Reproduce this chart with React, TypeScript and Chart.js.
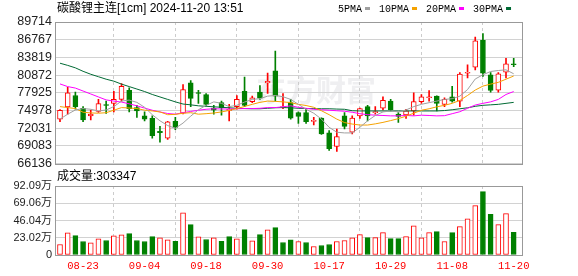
import React, { useEffect, useRef } from "react";
import { Chart, registerables } from "chart.js";
Chart.register(...registerables);

const title = "碳酸锂主连[1cm] 2024-11-20 13:51";
const volumeTitle = "成交量";
const lastVolume = 303347;

const dates = [
  "08-20","08-21","08-22","08-23","08-26","08-27","08-28","08-29","08-30",
  "09-02","09-03","09-04","09-05","09-06","09-09","09-10","09-11","09-12","09-13",
  "09-18","09-19","09-20","09-23","09-24","09-25","09-26","09-27","09-30",
  "10-08","10-09","10-10","10-11","10-14","10-15","10-16","10-17","10-18",
  "10-21","10-22","10-23","10-24","10-25","10-28","10-29","10-30","10-31",
  "11-01","11-04","11-05","11-06","11-07","11-08","11-11","11-12","11-13","11-14","11-15",
  "11-18","11-19","11-20",
];
const xTickLabels = ["08-23", "09-04", "09-18", "09-30", "10-17", "10-29", "11-08", "11-20"];

const opens = [73530,75551,77474,75338,74073,74796,75950,76159,76816,78345,75453,74073,73645,71510,70359,73153,74516,79560,77950,77638,75387,76274,74960,75617,78180,76439,78016,79560,81581,75480,76274,74631,74631,73153,73695,71230,68979,74073,71345,74073,75617,74600,75338,76537,74352,74237,74894,76439,77096,77359,75995,77260,76537,81170,82189,86674,80924,78345,81368,82760];
const closes = [75009,77917,75617,73416,74352,76110,75800,76816,79002,75289,74894,73530,70787,71280,73087,72167,78460,76981,77800,75995,75009,75453,75173,76816,75831,77096,77030,79823,77359,75640,73695,73974,73087,73317,71066,68601,70623,72331,73695,75289,74073,74780,76652,75058,73974,74894,76439,77260,77260,76159,76816,76537,81039,81340,86560,81203,78295,81089,82731,82600];
const highs = [75100,78837,78016,75617,75058,76816,76537,78180,79445,78739,75831,74730,74073,72331,73150,73810,79281,79938,78345,77800,75831,76537,75995,77474,80546,77359,79117,81203,84867,77800,76816,74730,75289,73810,73750,71608,71888,74631,74073,75387,75831,75617,77260,76816,74631,75173,77917,77638,78295,77400,77096,79002,81302,82567,87217,87775,81302,81302,83668,83668];
const lows = [73087,74352,75173,73087,73416,74631,74467,74730,76537,74730,73810,73251,70359,69702,70130,71773,74400,75617,76159,75716,74352,74188,73251,75173,75617,76274,76816,77800,76537,75289,73530,72824,72824,72545,71000,68322,68158,71888,71066,73645,73251,74352,75058,74894,72988,73645,74188,76159,76537,74894,75617,76373,75617,80382,81746,80645,78016,78016,80382,82287];

const volumes = [139700,295000,259500,179700,162400,215600,193000,255500,268800,286000,193000,179700,246000,229000,202000,183700,561600,405900,242200,206300,229000,183700,246200,215600,339400,189000,272800,335400,366000,166400,202300,179700,166400,113000,126400,139700,179700,193000,229000,272800,232900,232900,299400,219600,219600,246200,388600,229000,299400,312700,179700,299400,379300,481700,658700,845000,543000,405900,552300,303347];
const volumeUp = [1,1,0,0,1,1,0,1,1,0,0,0,0,1,1,0,1,0,1,0,1,0,0,1,0,1,0,1,0,0,0,1,0,1,0,0,1,1,1,1,0,1,1,0,0,1,1,1,1,0,1,0,1,1,1,0,0,1,1,0];

const ma5 = [73530,74351,75058,75288,75173,74894,75058,75617,76537,76701,76323,75502,74269,73251,72462,72002,72873,74023,75091,75830,76405,76159,75617,75830,76372,76816,76931,77358,77473,77260,76816,75994,75173,74516,73530,72167,71345,71230,71230,72167,73251,74138,74729,74894,74729,75058,75617,75994,76274,76537,76816,76931,77358,78459,80217,80923,81466,81630,81745,81088];
const ma10 = [75617,75452,75288,74680,74565,74516,74598,75009,75452,75387,75288,75025,74894,74729,74269,74319,74516,74598,74351,74434,74549,74729,74976,75288,75633,75994,76323,76537,76487,76405,76274,75994,75797,75502,74927,74269,73530,72955,72708,72544,72544,72741,72988,73284,73612,74023,74516,75009,75255,75584,75830,76159,76652,77473,78377,79034,79363,79658,80184,80710];
const ma20 = [79396,78952,78705,78213,77720,77227,76734,76537,76372,76077,75748,75370,75009,74729,74467,74351,74598,74812,75009,75173,75255,75222,75222,75255,75288,75288,75337,75452,75452,75584,75748,75502,75337,75173,75091,75009,74927,74844,74680,74434,74269,74187,74138,74072,74072,74138,74072,74187,74138,74072,74105,74434,74762,75337,75880,76159,76405,76816,77637,78130];
const ma30 = [82846,82484,82074,81499,81006,80595,80184,79856,79363,78952,78541,78130,77637,77227,76816,76405,76044,75912,75748,75666,75584,75502,75420,75337,75288,75255,75255,75337,75420,75452,75420,75337,75288,75288,75255,75255,75206,75173,74927,74894,74894,74894,74894,74894,74894,74894,74894,74894,74894,74894,74959,75091,75255,75420,75666,75830,75912,75994,76159,76323];

const priceTicks = [66136, 69083, 72031, 74978, 77925, 80872, 83819, 86767, 89714];
const volumeTicks = [0, 230215, 460430, 690645, 920860];

const maSeries = [
  { label: "5PMA", data: ma5, color: "#a0a0a0" },
  { label: "10PMA", data: ma10, color: "#f5a200" },
  { label: "20PMA", data: ma20, color: "#ff00ff" },
  { label: "30PMA", data: ma30, color: "#006a34" },
];

const RED = "#ff0000";
const GREEN = "#008000";
const SANS = "'Liberation Sans', 'Noto Sans CJK SC', Arial, sans-serif";
const MONO = "'Liberation Mono', 'DejaVu Sans Mono', monospace";
const CJK = "'Noto Sans CJK SC', sans-serif";

const idx = dates.map((_, i) => i);
const tickIdx = xTickLabels.map((l) => dates.indexOf(l));
const X_MIN = -0.65;
const X_MAX = 60.08;

const framePlugin = {
  id: "frame",
  afterDraw(chart: any) {
    const { ctx, chartArea: a } = chart;
    ctx.save();
    ctx.strokeStyle = "#999";
    ctx.lineWidth = 1;
    ctx.strokeRect(Math.round(a.left) + 0.5, Math.round(a.top) + 0.5, Math.round(a.right - a.left), Math.round(a.bottom - a.top));
    ctx.restore();
  },
};

const headerPlugin = {
  id: "header",
  beforeDraw(chart: any) {
    const { ctx } = chart;
    ctx.save();
    ctx.fillStyle = "#efeff1";
    ctx.font = `bold 30px ${CJK}`;
    ctx.textBaseline = "middle";
    ctx.fillText("东方财富", 256, 90);
    ctx.restore();
  },
  afterDraw(chart: any) {
    const { ctx, chartArea: a } = chart;
    ctx.save();
    ctx.fillStyle = "#000";
    ctx.textBaseline = "middle";
    ctx.font = `12px ${SANS}`;
    ctx.fillText(title, a.left + 2, 9);
    ctx.font = `10px ${MONO}`;
    let x = 338;
    for (const s of maSeries) {
      ctx.fillStyle = "#000";
      ctx.fillText(s.label, x, 9);
      x += ctx.measureText(s.label).width + 3;
      ctx.fillStyle = s.color;
      ctx.fillRect(x, 7, 5, 3);
      x += 5 + 9;
    }
    ctx.restore();
  },
};

const volHeaderPlugin = {
  id: "volHeader",
  afterDraw(chart: any) {
    const { ctx, chartArea: a } = chart;
    ctx.save();
    ctx.fillStyle = "#000";
    ctx.textBaseline = "middle";
    ctx.font = `12px ${SANS}`;
    ctx.fillText(`${volumeTitle}:${lastVolume}`, a.left + 2, 11);
    ctx.restore();
  },
};

function xScale(showLabels: boolean) {
  return {
    type: "linear" as const,
    min: X_MIN,
    max: X_MAX,
    offset: false,
    afterBuildTicks: (s: any) => {
      s.ticks = tickIdx.map((v) => ({ value: v }));
    },
    afterFit: (s: any) => {
      s.height = showLabels ? 21 : 0;
    },
    ticks: {
      display: showLabels,
      color: RED,
      padding: 5,
      maxRotation: 0,
      autoSkip: false,
      font: { family: MONO, size: 10.5 },
      callback: (v: any) => dates[v],
    },
    grid: { color: "#cccccc", drawTicks: false },
    border: { display: false, dash: [3, 3] },
  };
}

export default function App() {
  const mainRef = useRef<HTMLCanvasElement>(null);
  const volRef = useRef<HTMLCanvasElement>(null);

  useEffect(() => {
    const up = (i: number) => closes[i] >= opens[i];
    const main = new Chart(mainRef.current as HTMLCanvasElement, {
      type: "bar",
      data: {
        datasets: [
          ...maSeries.map((s, k) => ({
            type: "line" as const,
            label: s.label,
            data: idx.map((i) => ({ x: i, y: s.data[i] })),
            borderColor: s.color,
            borderWidth: 1,
            pointRadius: 0,
            tension: 0,
            order: k,
          })),
          {
            type: "bar" as const,
            label: "body",
            data: idx.map((i) => ({ x: i, y: [opens[i], closes[i]] })),
            backgroundColor: idx.map((i) => (up(i) ? "#ffffff" : GREEN)),
            borderColor: idx.map((i) => (up(i) ? RED : GREEN)),
            borderWidth: 1,
            borderSkipped: false,
            barThickness: 5,
            grouped: false,
            order: 10,
          },
          {
            type: "bar" as const,
            label: "wick",
            data: idx.map((i) => ({ x: i, y: [lows[i], highs[i]] })),
            backgroundColor: idx.map((i) => (up(i) ? RED : GREEN)),
            barThickness: 1,
            grouped: false,
            order: 11,
          },
        ] as any,
      },
      options: {
        responsive: false,
        animation: false,
        events: [],
        devicePixelRatio: 1,
        layout: { padding: { top: 22, right: 56, bottom: 9, left: 0 } },
        plugins: { legend: { display: false }, tooltip: { enabled: false } },
        scales: {
          x: xScale(false) as any,
          y: {
            type: "linear",
            min: priceTicks[0],
            max: priceTicks[priceTicks.length - 1],
            afterBuildTicks: (s: any) => {
              s.ticks = priceTicks.map((v) => ({ value: v }));
            },
            afterFit: (s: any) => {
              s.width = 55;
            },
            ticks: {
              color: "#222",
              padding: 3,
              autoSkip: false,
              font: { family: SANS, size: 12.5 },
              callback: (v: any) => String(v),
            },
            grid: { color: "#d2d2d2", drawTicks: false },
            border: { display: false },
          } as any,
        },
      },
      plugins: [headerPlugin, framePlugin],
    });

    const vol = new Chart(volRef.current as HTMLCanvasElement, {
      type: "bar",
      data: {
        datasets: [
          {
            label: "volume",
            data: idx.map((i) => ({ x: i, y: volumes[i] })),
            backgroundColor: idx.map((i) => (volumeUp[i] ? "#ffffff" : GREEN)),
            borderColor: idx.map((i) => (volumeUp[i] ? RED : GREEN)),
            borderWidth: 1,
            borderSkipped: false,
            barThickness: 5,
            grouped: false,
          },
        ] as any,
      },
      options: {
        responsive: false,
        animation: false,
        events: [],
        devicePixelRatio: 1,
        layout: { padding: { top: 20, right: 56, bottom: 0, left: 0 } },
        plugins: { legend: { display: false }, tooltip: { enabled: false } },
        scales: {
          x: xScale(true) as any,
          y: {
            type: "linear",
            min: volumeTicks[0],
            max: volumeTicks[volumeTicks.length - 1],
            afterBuildTicks: (s: any) => {
              s.ticks = volumeTicks.map((v) => ({ value: v }));
            },
            afterFit: (s: any) => {
              s.width = 55;
            },
            ticks: {
              color: "#222",
              padding: 3,
              autoSkip: false,
              font: { family: SANS, size: 11 },
              callback: (v: any) => (v === 0 ? "0" : (v / 10000).toFixed(2) + "万"),
            },
            grid: { color: "#d2d2d2", drawTicks: false },
            border: { display: false },
          } as any,
        },
      },
      plugins: [framePlugin, volHeaderPlugin],
    });

    return () => {
      main.destroy();
      vol.destroy();
    };
  }, []);

  return (
    <div style={{ position: "absolute", left: 0, top: 0, width: 578, height: 276, background: "#fff", overflow: "hidden" }}>
      <canvas ref={mainRef} width={578} height={174} style={{ position: "absolute", left: 0, top: 0, width: 578, height: 174 }} />
      <canvas ref={volRef} width={578} height={110} style={{ position: "absolute", left: 0, top: 166, width: 578, height: 110 }} />
    </div>
  );
}
